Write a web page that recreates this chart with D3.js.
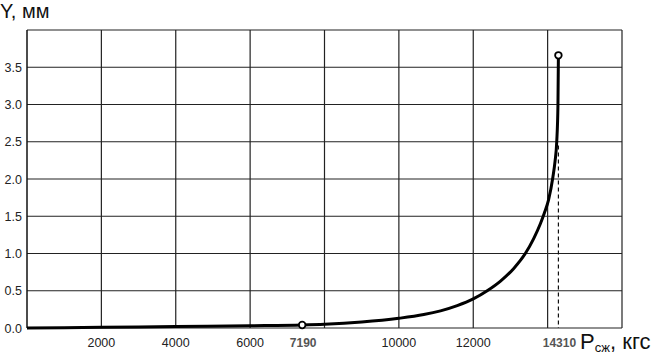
<!DOCTYPE html>
<html>
<head>
<meta charset="utf-8">
<script src="https://cdn.jsdelivr.net/npm/d3@7"></script>
<style>
  body { margin: 0; background: #fff; }
  text { font-family: "Liberation Sans", Arial, sans-serif; }
</style>
</head>
<body>
<div id="chart-area"></div>
<script>
// data (positions as drawn on the chart)
var forceP = [0, 2000, 4000, 6000, 7400, 8000, 9000, 10000, 10670, 11120, 11570, 12000, 12375, 12733, 13090, 13400, 13625, 13805, 13910, 14025, 14140, 14200, 14245, 14278, 14290];
var deflY = [0, 0.01, 0.02, 0.03, 0.04, 0.05, 0.08, 0.13, 0.18, 0.23, 0.30, 0.39, 0.50, 0.63, 0.80, 1.0, 1.2, 1.4, 1.54, 1.72, 2.02, 2.24, 2.5, 3.0, 3.66];
var xTicks = [2000, 4000, 6000, 8000, 10000, 12000, 14000];
var xLabelTicks = [2000, 4000, 6000, 10000, 12000];
var yTicks = [0, 0.5, 1.0, 1.5, 2.0, 2.5, 3.0, 3.5];
// marked points: where they sit on the chart, and their labels
var markP = [7400, 14290];
var markY = [0.04, 3.66];
var markLabel = ["7190", "14310"];

var margin = { left: 27, right: 30, top: 30, bottom: 27 };
var W = 652, H = 355;
var width = W - margin.left - margin.right,
    height = H - margin.top - margin.bottom;

var svg = d3.select("#chart-area").append("svg").attr("width", W).attr("height", H);
var g = svg.append("g").attr("transform", "translate(" + margin.left + "," + margin.top + ")");

var x = d3.scaleLinear().domain([0, 16000]).range([0, width]);
var y = d3.scaleLinear().domain([0, 4]).range([height, 0]);

// grid
g.selectAll(".vgrid").data(xTicks.concat([16000])).enter().append("line")
  .attr("x1", function (d) { return x(d); }).attr("x2", function (d) { return x(d); })
  .attr("y1", 0).attr("y2", height)
  .attr("stroke", "#222").attr("stroke-width", 1.2);
g.selectAll(".hgrid").data(yTicks.concat([4])).enter().append("line")
  .attr("x1", 0).attr("x2", width)
  .attr("y1", function (d) { return y(d); }).attr("y2", function (d) { return y(d); })
  .attr("stroke", "#222").attr("stroke-width", 1.2);
g.append("line").attr("x1", 0).attr("x2", 0).attr("y1", 0).attr("y2", height)
  .attr("stroke", "#111").attr("stroke-width", 1.5);

// y tick labels
g.selectAll(".ylab").data(yTicks).enter().append("text")
  .attr("x", -5).attr("y", function (d) { return y(d) + 4.5; })
  .attr("text-anchor", "end").attr("font-size", "12.5px").attr("fill", "#222")
  .text(function (d) { return d.toFixed(1); });

// x tick labels
g.selectAll(".xlab").data(xLabelTicks).enter().append("text")
  .attr("x", function (d) { return x(d); }).attr("y", height + 19)
  .attr("text-anchor", "middle").attr("font-size", "12.5px").attr("fill", "#222")
  .text(function (d) { return d; });
g.selectAll(".xspec").data(markP).enter().append("text")
  .attr("x", function (d) { return x(d) + 1; }).attr("y", height + 19)
  .attr("text-anchor", "middle").attr("font-size", "12px").attr("font-weight", "bold").attr("fill", "#555")
  .text(function (d, i) { return markLabel[i]; });

// dashed marker down from the end point
g.append("line")
  .attr("x1", x(markP[1])).attr("x2", x(markP[1]))
  .attr("y1", y(2.45)).attr("y2", height)
  .attr("stroke", "#111").attr("stroke-width", 1.2).attr("stroke-dasharray", "4,3");

// curve
var line = d3.line()
  .x(function (d) { return x(d[0]); })
  .y(function (d) { return y(d[1]); })
  .curve(d3.curveMonotoneX);
g.append("path")
  .datum(forceP.map(function (p, i) { return [p, deflY[i]]; }))
  .attr("d", line).attr("fill", "none")
  .attr("stroke", "#000").attr("stroke-width", 3);

g.selectAll(".pt").data(markP).enter().append("circle")
  .attr("cx", function (d) { return x(d); }).attr("cy", function (d, i) { return y(markY[i]); })
  .attr("r", 3.3).attr("fill", "#fff").attr("stroke", "#000").attr("stroke-width", 1.8);

// axis titles
svg.append("text").attr("x", 0).attr("y", 18).attr("font-size", "20px").attr("fill", "#111")
  .text("Y, мм");
var xt = svg.append("text").attr("x", 580).attr("y", 349).attr("font-size", "22px").attr("fill", "#111");
xt.append("tspan").text("P");
xt.append("tspan").attr("font-size", "13px").attr("dy", 3).text("сж");
xt.append("tspan").attr("dy", -3).text(", кгс");
</script>
</body>
</html>
